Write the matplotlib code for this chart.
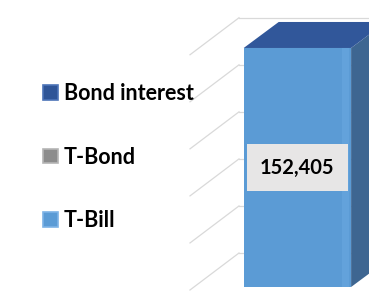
import matplotlib
matplotlib.use("Agg")
import matplotlib.pyplot as plt
from matplotlib.patches import Polygon, Patch
import numpy as np

# stacked 3D column, one category
series = ["T-Bill", "T-Bond", "Bond interest"]
t_bill = [152405]
t_bond = [0]
bond_interest = [0]
grid_values = [0, 30000, 60000, 90000, 120000, 150000]

front_col = {"T-Bill": "#5B9BD5", "T-Bond": "#8C8C8C", "Bond interest": "#2F5597"}
side_col = {"T-Bill": "#3E6691", "T-Bond": "#5E5E5E", "Bond interest": "#1F3A66"}
top_col = "#31579A"
edge_col = {"T-Bill": "#7DB3E6", "T-Bond": "#B5B5B5", "Bond interest": "#4D74B8"}

W, H = 369, 297
fig = plt.figure(figsize=(W / 100, H / 100), dpi=100)
ax = fig.add_axes([190 / W, 10 / H, 179 / W, 287 / H])
ax.set_xlim(-0.6, 0.4)
ax.set_ylim(0, 183000)
ax.axis("off")

# pixel -> data units
px_x = 1.0 / 179
px_y = 183000 / 287
x0 = -0.6

# back wall + left wall grid lines
for g in grid_values:
    bx, by = x0 + 49 * px_x, g + 34 * px_y
    fx, fy = x0, g - 3 * px_y
    ax.plot([bx, 1.0], [by, by], color="#D9D9D9", lw=0.9, clip_on=False, zorder=1)
    ax.plot([fx, bx], [fy, by], color="#D9D9D9", lw=0.9, clip_on=False, zorder=1)

bw = 0.6
dx, dy = 35 * px_x, 26 * px_y
values = {"T-Bill": t_bill, "T-Bond": t_bond, "Bond interest": bond_interest}
bottom = 0
for s in series:
    v = values[s][0]
    ax.bar(0, v, width=bw, bottom=bottom, color=front_col[s], edgecolor="none",
           zorder=3, clip_on=False)
    if v > 0:
        # faint bevel strip on the right edge of the front face
        ax.bar(bw / 2 - 6 * px_x, v, width=7 * px_x, bottom=bottom,
               color="#63A2DB", edgecolor="none", zorder=3.5, clip_on=False)
        xr = bw / 2
        side = Polygon([(xr, bottom), (xr + dx, bottom + dy),
                        (xr + dx, bottom + v + dy), (xr, bottom + v)],
                       closed=True, fc=side_col[s], ec="none", zorder=3, clip_on=False)
        ax.add_patch(side)
    bottom += v

xl, xr = -bw / 2, bw / 2
top = Polygon([(xl, bottom), (xr, bottom), (xr + dx, bottom + dy), (xl + dx, bottom + dy)],
              closed=True, fc=top_col, ec="none", zorder=4, clip_on=False)
ax.add_patch(top)

ax.text(0, t_bill[0] / 2, f"{t_bill[0]:,}", ha="center", va="center",
        family="Lato", weight="bold", fontsize=14.5, color="black", zorder=6,
        bbox=dict(boxstyle="square,pad=0.65", fc="#E7E6E6", ec="none"))

handles = [Patch(fc=front_col[s], ec=edge_col[s], lw=1.2) for s in reversed(series)]
fig.legend(handles, list(reversed(series)), loc="center left",
           bbox_to_anchor=(43 / W, 1 - 157 / H), frameon=False,
           prop=dict(family="Lato", weight="bold", size=15.5),
           handlelength=0.68, handleheight=0.68, handletextpad=0.3,
           labelspacing=1.98, borderpad=0, borderaxespad=0)

fig.savefig("out.png", dpi=100)
